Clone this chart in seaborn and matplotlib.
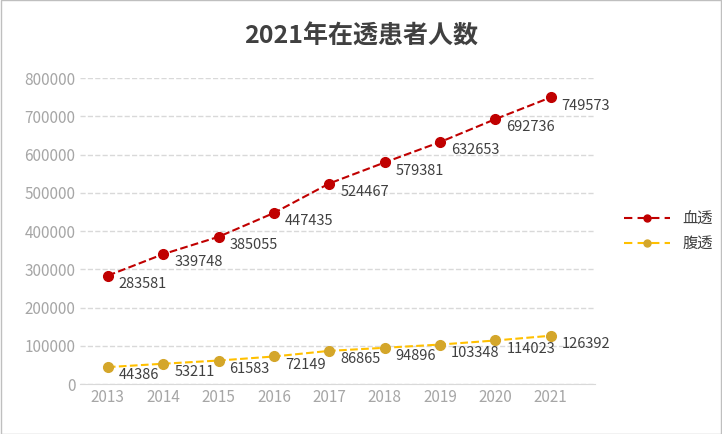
import matplotlib
matplotlib.use("Agg")
import matplotlib.pyplot as plt
import seaborn as sns
import pandas as pd

years = [2013, 2014, 2015, 2016, 2017, 2018, 2019, 2020, 2021]
hd = [283581, 339748, 385055, 447435, 524467, 579381, 632653, 692736, 749573]
pd_vals = [44386, 53211, 61583, 72149, 86865, 94896, 103348, 114023, 126392]

plt.rcParams["font.family"] = "sans-serif"
plt.rcParams["font.sans-serif"] = ["Noto Sans CJK SC", "Noto Sans CJK JP", "Noto Sans CJK TC", "DejaVu Sans"]
df = pd.DataFrame({"year": years * 2, "value": hd + pd_vals,
                   "series": ["血透"] * 9 + ["腹透"] * 9})

fig = plt.figure(figsize=(7.22, 4.34), dpi=100)
ax = fig.add_axes([0.111, 0.115, 0.713, 0.705])
colors = {"血透": "#C00000", "腹透": "#FFC000"}
mcolors = {"血透": "#C00000", "腹透": "#D4A62A"}
for s in ["血透", "腹透"]:
    d = df[df.series == s]
    sns.lineplot(data=d, x="year", y="value", ax=ax, color=colors[s], lw=1.5,
                 dashes=(8, 3), linestyle="--", legend=False)
    ax.plot(d.year, d.value, ls="", marker="o", ms=7, color=mcolors[s])
    for x, y in zip(d.year, d.value):
        ax.text(x + 0.2, y - 3000, str(y), fontsize=10.5, color="#404040", va="top", ha="left")

from matplotlib.lines import Line2D
h = [Line2D([], [], color=colors[s], ls="--", dashes=(4, 2.5), marker="o", ms=5,
            markerfacecolor=mcolors[s], markeredgecolor=mcolors[s]) for s in ["血透", "腹透"]]
ax.legend(h, ["血透", "腹透"], loc="center left", bbox_to_anchor=(1.03, 0.5), frameon=False,
          fontsize=11, labelcolor="#404040", handlelength=3)

ax.set_xlim(2012.5, 2021.8)
ax.set_ylim(0, 800000)
ax.set_yticks(range(0, 800001, 100000))
ax.set_xticks(years)
ax.tick_params(colors="#A6A6A6", labelsize=11, length=0)
ax.grid(axis="y", color="#D9D9D9", ls="--", lw=1)
ax.set_axisbelow(True)
for sp in ["top", "right", "left"]:
    ax.spines[sp].set_visible(False)
ax.spines["bottom"].set_color("#D9D9D9")
ax.set_xlabel(""); ax.set_ylabel("")
fig.text(0.5, 0.9, "2021年在透患者人数", ha="center", fontsize=18, fontweight="bold", color="#404040")
fig.patches.append(plt.Rectangle((0.001, 0.001), 0.998, 0.998, transform=fig.transFigure,
                                 fill=False, ec="#BFBFBF", lw=1))
fig.savefig("out.png", dpi=100)
